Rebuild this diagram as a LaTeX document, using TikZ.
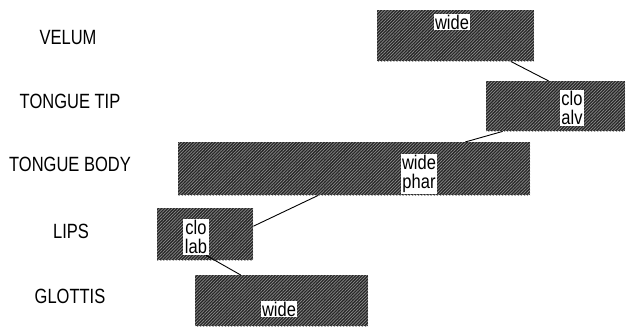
\documentclass[tikz,border=0pt]{standalone}
\usepackage{fontspec}
\setmainfont{Liberation Sans}
\usetikzlibrary{patterns.meta}
\begin{document}
\begin{tikzpicture}[x=1pt,y=1pt,
  tier/.style={font=\fontsize{16.5}{18}\selectfont, anchor=center, yscale=1.25, transform shape},
  gesture/.style={rectangle, anchor=north west, inner sep=0pt, fill=black!85,
    postaction={pattern={Lines[angle=45,distance=2.2pt,line width=0.7pt]}, pattern color=black!45}},
  gestlabel/.style={rectangle, fill=white, inner xsep=1.5pt, inner ysep=1pt, align=center,
    font=\fontsize{16.5}{16}\selectfont, yscale=1.2, transform shape},
  link/.style={draw=black, line width=0.9pt}]
\useasboundingbox (0,0) rectangle (634,-328);
% tier names
\node[tier] (nvel) at (68,-38) {VELUM};
\node[tier] (ntt) at (70,-101) {TONGUE TIP};
\node[tier] (ntb) at (70,-164) {TONGUE BODY};
\node[tier] (nlips) at (71,-231) {LIPS};
\node[tier] (nglot) at (70,-296) {GLOTTIS};
% gesture boxes
\node[gesture, minimum width=157pt, minimum height=51pt] (velum) at (377,-10) {};
\node[gesture, minimum width=139pt, minimum height=50pt] (tt) at (486,-81) {};
\node[gesture, minimum width=352pt, minimum height=53pt] (tb) at (178,-142) {};
\node[gesture, minimum width=96pt, minimum height=52pt] (lips) at (157,-208) {};
\node[gesture, minimum width=173pt, minimum height=51pt] (glottis) at (195,-275) {};
% labels
\node[gestlabel] (lvel) at (452,-22) {wide};
\node[gestlabel] (ltt) at (572,-108) {clo\\alv};
\node[gestlabel] (ltb) at (419,-174) {wide\\phar};
\node[gestlabel] (llips) at (196,-237) {clo\\lab};
\node[gestlabel] (lglot) at (279,-309) {wide};
% phasing links
\draw[link] ([xshift=55pt]velum.south) -- ([xshift=-7pt]tt.north);
\draw[link] ([xshift=-53pt]tt.south) -- ([xshift=111pt]tb.north);
\draw[link] ([xshift=-36pt]tb.south) -- ([yshift=8pt]lips.east);
\draw[link] ([xshift=10pt]llips.south) -- ([xshift=-41pt]glottis.north);
\end{tikzpicture}
\end{document}
